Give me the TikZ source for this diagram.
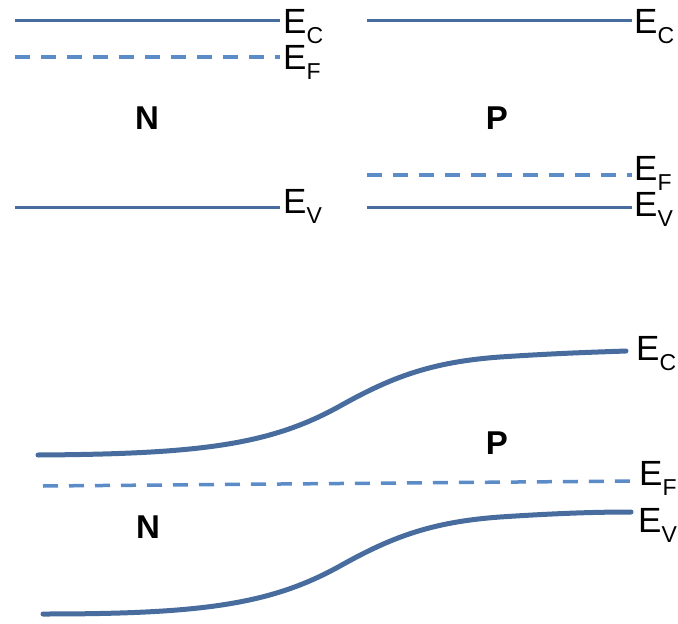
\documentclass[tikz,border=0pt]{standalone}
\usepackage{fontspec}
\setmainfont{Liberation Sans}
\definecolor{bandblue}{RGB}{72,108,158}
\definecolor{fermiblue}{RGB}{92,140,200}
% energy level label: E with a lowered, smaller index
\newcommand\levlabel[1]{E\raisebox{-10pt}{\fontsize{23}{23}\selectfont #1}}
\tikzset{
  band/.style={draw=bandblue, line width=3pt},
  bentband/.style={draw=bandblue, line width=5pt, line cap=round},
  fermi/.style={draw=fermiblue, line width=3.5pt, dash pattern=on 15pt off 11pt},
  lvl/.style={anchor=base west, inner sep=0pt, font=\fontsize{35}{35}\selectfont},
  region/.style={inner sep=0pt, font=\fontsize{33}{33}\selectfont\bfseries},
}
\begin{document}
\begin{tikzpicture}[x=1pt, y=-1pt]
  \useasboundingbox (0,0) rectangle (678,624);

  % ---- isolated N-type material ----
  \coordinate (nc0) at (15,20);  \coordinate (nc1) at (280,20);
  \coordinate (nf0) at (15,57);  \coordinate (nf1) at (280,57);
  \coordinate (nv0) at (15,207); \coordinate (nv1) at (280,207);
  \node[lvl] (nEC) at (283,33)  {\levlabel{C}};
  \node[lvl] (nEF) at (283,69)  {\levlabel{F}};
  \node[lvl] (nEV) at (283,213) {\levlabel{V}};
  \node[region] (nN) at (147,118) {N};
  \draw[band]  (nc0) -- (nc1);
  \draw[fermi] (nf0) -- (nf1);
  \draw[band]  (nv0) -- (nv1);

  % ---- isolated P-type material ----
  \coordinate (pc0) at (367,20);  \coordinate (pc1) at (632,20);
  \coordinate (pf0) at (367,175); \coordinate (pf1) at (632,175);
  \coordinate (pv0) at (367,207); \coordinate (pv1) at (632,207);
  \node[lvl] (pEC) at (634,33)  {\levlabel{C}};
  \node[lvl] (pEF) at (634,180) {\levlabel{F}};
  \node[lvl] (pEV) at (634,216) {\levlabel{V}};
  \node[region] (pP) at (497,118) {P};
  \draw[band]  (pc0) -- (pc1);
  \draw[fermi] (pf0) -- (pf1);
  \draw[band]  (pv0) -- (pv1);

  % ---- PN junction in equilibrium ----
  \coordinate (jc0) at (38,455);  \coordinate (jc1) at (626,351);
  \coordinate (jf0) at (43,486);  \coordinate (jf1) at (636,481);
  \coordinate (jv0) at (43,614);  \coordinate (jv1) at (631,512);
  \node[lvl] (jEC) at (636,360) {\levlabel{C}};
  \node[lvl] (jEF) at (639,485) {\levlabel{F}};
  \node[lvl] (jEV) at (638,532) {\levlabel{V}};
  \node[region] (jP) at (497,443) {P};
  \node[region] (jN) at (148,527) {N};
  % conduction band edge, bent across the junction
  \draw[bentband] (jc0) .. controls (200,454) and (270,445) .. (340,406)
        .. controls (390,378) and (430,362) .. (500,357)
        .. controls (560,353) and (600,352) .. (jc1);
  \draw[fermi] (jf0) -- (jf1);
  % valence band edge, same bending
  \draw[bentband] (jv0) .. controls (200,614) and (270,605) .. (340,566)
        .. controls (390,538) and (430,522) .. (500,517)
        .. controls (560,513) and (600,512) .. (jv1);
\end{tikzpicture}
\end{document}
